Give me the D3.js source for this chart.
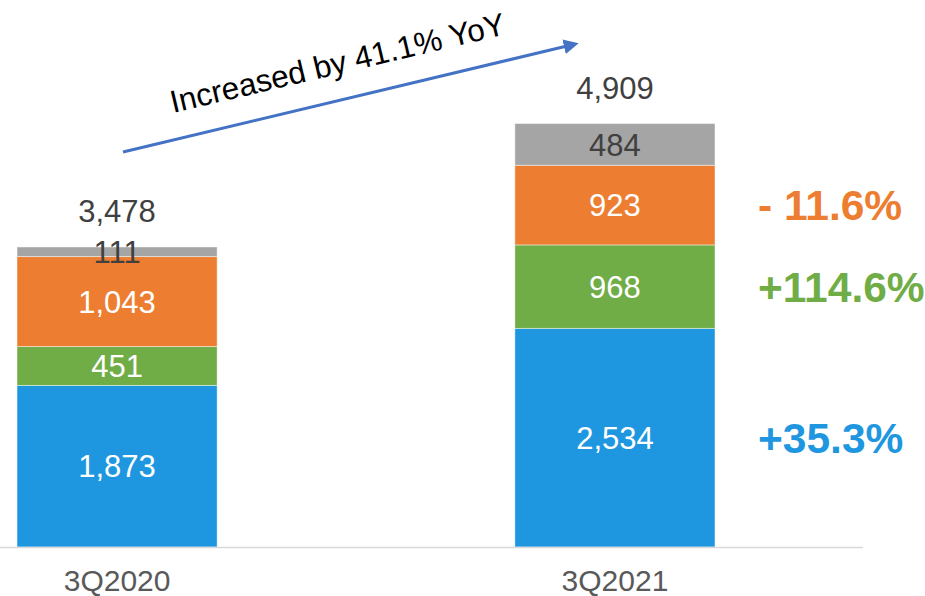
<!DOCTYPE html>
<html>
<head>
<meta charset="utf-8">
<script src="https://cdn.jsdelivr.net/npm/d3@7"></script>
<style>
  html, body { margin: 0; padding: 0; background: #fff; }
  svg { display: block; font-family: Arial, "Liberation Sans", sans-serif; }
</style>
</head>
<body>
<svg id="chart" width="925" height="596"></svg>
<script>
// ---- data ----
const categories = ["3Q2020", "3Q2021"];
const seriesNames = ["blue", "green", "orange", "gray"];
const blueValues   = [1873, 2534];
const greenValues  = [451, 968];
const orangeValues = [1043, 923];
const grayValues   = [111, 484];
const totals       = [3478, 4909];
const changeLabels = ["+35.3%", "+114.6%", "- 11.6%", ""];
const annotation   = "Increased by 41.1% YoY";

const colors = {
  blue: "#1F97E0",
  green: "#70AD47",
  orange: "#ED7D31",
  gray: "#A5A5A5"
};
const labelColors = { blue: "#ffffff", green: "#ffffff", orange: "#ffffff", gray: "#404040" };

const rows = categories.map((c, i) => ({
  category: c,
  blue: blueValues[i],
  green: greenValues[i],
  orange: orangeValues[i],
  gray: grayValues[i],
  total: totals[i]
}));

const svg = d3.select("#chart");

const x = d3.scaleBand()
  .domain(categories)
  .range([17, 715])
  .paddingInner(0.598)
  .paddingOuter(0);

const y = d3.scaleLinear()
  .domain([0, 5000])
  .range([547, 115.7]);

const stack = d3.stack().keys(seriesNames);
const layers = stack(rows);

// bars
const gLayers = svg.append("g")
  .selectAll("g")
  .data(layers)
  .join("g")
  .attr("fill", d => colors[d.key]);

gLayers.selectAll("rect")
  .data(d => d.map(v => Object.assign(v, { key: d.key })))
  .join("rect")
  .attr("x", d => x(d.data.category))
  .attr("width", x.bandwidth())
  .attr("y", d => y(d[1]))
  .attr("height", d => y(d[0]) - y(d[1]))
  .attr("stroke", "#ffffff")
  .attr("stroke-opacity", 0.45)
  .attr("stroke-width", 1);

// segment value labels
gLayers.selectAll("text")
  .data(d => d)
  .join("text")
  .attr("x", d => x(d.data.category) + x.bandwidth() / 2)
  .attr("y", d => (y(d[0]) + y(d[1])) / 2)
  .attr("dy", "0.36em")
  .attr("text-anchor", "middle")
  .attr("font-size", 31)
  .attr("fill", d => labelColors[d.key])
  .text(d => d3.format(",")(d[1] - d[0]));

// axis category labels
const xAxis = d3.axisBottom(x).tickSize(0).tickPadding(0);
const axisG = svg.append("g")
  .attr("transform", `translate(0,${y(0)})`)
  .call(xAxis);
axisG.select(".domain").remove();
axisG.selectAll("text")
  .attr("font-size", 30)
  .attr("font-family", "Arial, 'Liberation Sans', sans-serif")
  .attr("fill", "#595959")
  .attr("dy", null)
  .attr("y", 44);

svg.append("line")
  .attr("x1", 0).attr("x2", 863)
  .attr("y1", y(0) + 0.5).attr("y2", y(0) + 0.5)
  .attr("stroke", "#D9D9D9")
  .attr("stroke-width", 1.5);

// totals
svg.append("g")
  .selectAll("text")
  .data(rows)
  .join("text")
  .attr("x", d => x(d.category) + x.bandwidth() / 2)
  .attr("y", d => y(d.total) - 25)
  .attr("text-anchor", "middle")
  .attr("font-size", 31)
  .attr("fill", "#404040")
  .text(d => d3.format(",")(d.total));

// change labels next to second bar
const last = layers.map(l => ({ key: l.key, seg: l[l.length - 1] }));
svg.append("g")
  .selectAll("text")
  .data(last.filter((d, i) => changeLabels[i] !== ""))
  .join("text")
  .attr("x", x(categories[1]) + x.bandwidth() + 43)
  .attr("y", d => (y(d.seg[0]) + y(d.seg[1])) / 2)
  .attr("dy", "0.36em")
  .attr("font-size", 42.5)
  .attr("font-weight", "bold")
  .attr("fill", d => colors[d.key])
  .text(d => changeLabels[seriesNames.indexOf(d.key)]);

// arrow annotation
const defs = svg.append("defs");
defs.append("marker")
  .attr("id", "arrowhead")
  .attr("viewBox", "0 0 10 10")
  .attr("refX", 2)
  .attr("refY", 5)
  .attr("markerWidth", 5)
  .attr("markerHeight", 5)
  .attr("markerUnits", "strokeWidth")
  .attr("orient", "auto")
  .append("path")
  .attr("d", "M0,0 L10,5 L0,10 Z")
  .attr("fill", "#4472C4");

svg.append("line")
  .attr("x1", 123).attr("y1", 152)
  .attr("x2", 567).attr("y2", 46)
  .attr("stroke", "#4472C4")
  .attr("stroke-width", 3)
  .attr("marker-end", "url(#arrowhead)");

svg.append("text")
  .attr("transform", "translate(173,113) rotate(-13.3)")
  .attr("font-size", 31.5)
  .attr("fill", "#000000")
  .text(annotation);
</script>
</body>
</html>
